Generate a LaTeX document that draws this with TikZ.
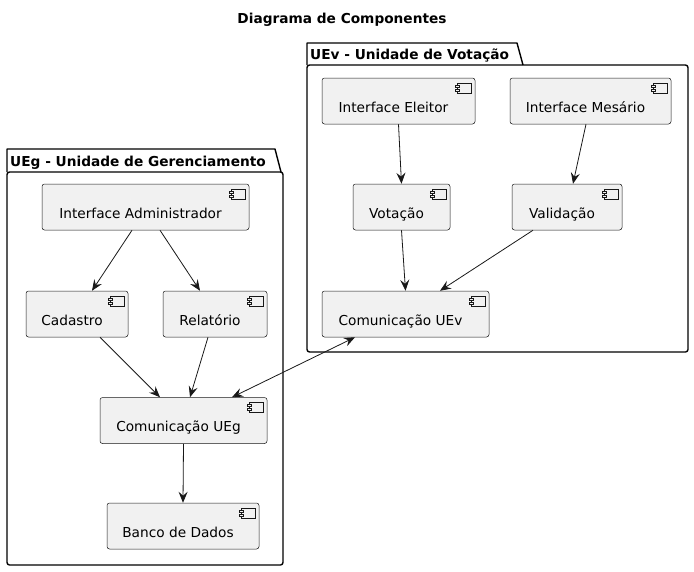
\documentclass[tikz,border=0pt]{standalone}
\usepackage{fontspec}
\setmainfont{DejaVu Sans}
\usetikzlibrary{arrows.meta}
\definecolor{compfill}{HTML}{F1F1F1}
\definecolor{compline}{HTML}{181818}

\tikzset{
	comp/.style={draw=compline, fill=compfill, rounded corners=2.5pt, line width=0.5pt,
		inner sep=0pt, minimum height=46pt, text height=24pt, text depth=2pt,
		font=\fontsize{13.7}{16}\selectfont, execute at begin node={\hspace*{-10pt}}},
	pkg/.style={draw=black, line width=1.4pt, line join=round},
	pkgtitle/.style={anchor=base west, inner sep=0pt, font=\bfseries\fontsize{13.7}{16}\selectfont},
	icon/.style={draw=compline, fill=compfill, line width=0.5pt},
	dep/.style={->, draw=compline, line width=0.8pt},
	bidep/.style={<->, draw=compline, line width=0.8pt}
}

\begin{document}
\begin{tikzpicture}[x=1pt, y=-1pt, >={Stealth[length=11pt,width=9pt,inset=4pt]}]
	\useasboundingbox (0,0) rectangle (694,571);
	
	%Title
	\node[font=\bfseries\fontsize{13.7}{16}\selectfont, anchor=base] (title) at (342,23) {Diagrama de Componentes};
	
	%Package UEv
	\draw[pkg] (307,65) -- (307,43) -- (517,43) -- (523,65);
	\draw[pkg, rounded corners=2.5pt] (307,65) rectangle (688,352);
	\node[pkgtitle] (uev) at (310,59) {UEv - Unidade de Votação};
	
	%Package UEg
	\draw[pkg] (7,172) -- (7,149) -- (275,149) -- (281,172);
	\draw[pkg, rounded corners=2.5pt] (7,172) rectangle (283,565);
	\node[pkgtitle] (ueg) at (10,166) {UEg - Unidade de Gerenciamento};
	
	%Components UEv
	\node[comp, minimum width=153pt] (ieleitor) at (398.5,101) {Interface Eleitor};
	\node[comp, minimum width=161pt] (imesario) at (590.5,101) {Interface Mesário};
	\node[comp, minimum width=97pt] (votacao) at (401.5,207) {Votação};
	\node[comp, minimum width=110pt] (validacao) at (567,207) {Validação};
	\node[comp, minimum width=167pt] (comuev) at (405.5,314) {Comunicação UEv};
	
	%Components UEg
	\node[comp, minimum width=207pt] (iadmin) at (145.5,207) {Interface Administrador};
	\node[comp, minimum width=102pt] (cadastro) at (77,314) {Cadastro};
	\node[comp, minimum width=104pt] (relatorio) at (215,314) {Relatório};
	\node[comp, minimum width=167pt] (comueg) at (183.5,420.5) {Comunicação UEg};
	\node[comp, minimum width=152pt] (banco) at (183,526) {Banco de Dados};
	
	%Component icons
	\foreach \n in {ieleitor,imesario,votacao,validacao,comuev,iadmin,cadastro,relatorio,comueg,banco}{
		\draw[icon] ([xshift=-18pt,yshift=-5pt]\n.north east) rectangle ++(14pt,-10pt);
		\draw[icon] ([xshift=-20pt,yshift=-7pt]\n.north east) rectangle ++(4pt,-2pt);
		\draw[icon] ([xshift=-20pt,yshift=-11pt]\n.north east) rectangle ++(4pt,-2pt);
	}
	
	%Dependencies UEv
	\draw[dep] (ieleitor.south) -- (votacao.north);
	\draw[dep] ([xshift=-4.5pt]imesario.south) -- ([xshift=6pt]validacao.north);
	\draw[dep] (votacao.south) -- (comuev.north);
	\draw[dep] ([xshift=-34pt]validacao.south) -- ([xshift=34.5pt]comuev.north);
	
	%Dependencies UEg
	\draw[dep] ([xshift=-13.5pt]iadmin.south) -- ([xshift=15pt]cadastro.north);
	\draw[dep] ([xshift=14.5pt]iadmin.south) -- ([xshift=-15pt]relatorio.north);
	\draw[dep] ([xshift=23pt]cadastro.south) -- ([xshift=-23.5pt]comueg.north);
	\draw[dep] ([xshift=-7pt]relatorio.south) -- ([xshift=6.5pt]comueg.north);
	\draw[dep] (comueg.south) -- (banco.north);
	
	%Link between the two units
	\draw[bidep] ([xshift=-50.5pt]comuev.south) -- ([xshift=48.5pt]comueg.north);
	
\end{tikzpicture}
\end{document}
